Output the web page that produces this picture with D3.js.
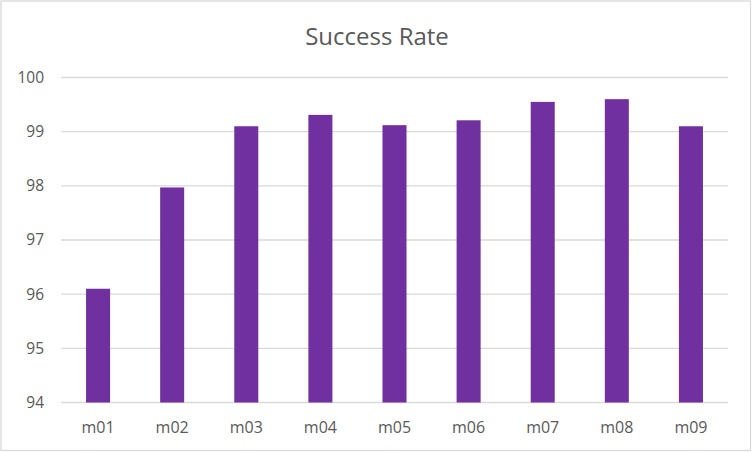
<!DOCTYPE html>
<html>
<head>
    <meta charset="utf-8">
    <title>Success Rate</title>
    <style>
        body{ margin: 0; background: #fff; }
        svg{ display: block; }
        text{ font-family: 'Open Sans', 'Noto Sans', sans-serif; fill: #595959; }
    </style>
</head>
<body>
<div id="chart"></div>

<script src="https://d3js.org/d3.v7.min.js"></script>
<script>
// data
var months = ["m01", "m02", "m03", "m04", "m05", "m06", "m07", "m08", "m09"];
var rates  = [96.10, 97.97, 99.10, 99.31, 99.12, 99.21, 99.55, 99.60, 99.10];
var yTicks = [94, 95, 96, 97, 98, 99, 100];

var width  = 752,
    height = 452,
    margin = {top: 77.5, right: 24, bottom: 49.5, left: 61};

var svg = d3.select("#chart")
    .append("svg")
    .attr("width", width)
    .attr("height", height);

// chart frame
svg.append("rect")
    .attr("x", 1).attr("y", 1)
    .attr("width", width - 2.5).attr("height", height - 2.5)
    .attr("fill", "#fff")
    .attr("stroke", "#d9d9d9")
    .attr("stroke-width", 1.3);

var x = d3.scaleBand()
    .domain(months)
    .range([margin.left, width - margin.right])
    .paddingInner(0.676)
    .paddingOuter(0.338);

var y = d3.scaleLinear()
    .domain([94, 100])
    .range([height - margin.bottom, margin.top]);

// gridlines
svg.append("g")
    .selectAll("line")
    .data(yTicks)
    .enter().append("line")
    .attr("x1", margin.left)
    .attr("x2", width - margin.right)
    .attr("y1", function(d){ return y(d); })
    .attr("y2", function(d){ return y(d); })
    .attr("stroke", "#d9d9d9")
    .attr("stroke-width", 1.3);

// y labels
svg.append("g")
    .selectAll("text")
    .data(yTicks)
    .enter().append("text")
    .attr("x", 44)
    .attr("y", function(d){ return y(d); })
    .attr("dy", "0.35em")
    .attr("text-anchor", "end")
    .style("font-size", "15.5px")
    .text(function(d){ return d; });

// bars
svg.append("g")
    .selectAll("rect")
    .data(rates)
    .enter().append("rect")
    .attr("x", function(d, i){ return x(months[i]); })
    .attr("width", x.bandwidth())
    .attr("y", function(d){ return y(d); })
    .attr("height", function(d){ return y(94) - y(d); })
    .attr("fill", "#7030a0");

// x labels
svg.append("g")
    .selectAll("text")
    .data(months)
    .enter().append("text")
    .attr("x", function(d){ return x(d) + x.bandwidth() / 2; })
    .attr("y", 433)
    .attr("text-anchor", "middle")
    .style("font-size", "16px")
    .text(function(d){ return d; });

// title
svg.append("text")
    .attr("x", 377)
    .attr("y", 45)
    .attr("text-anchor", "middle")
    .style("font-size", "24px")
    .text("Success Rate");
</script>
</body>
</html>
